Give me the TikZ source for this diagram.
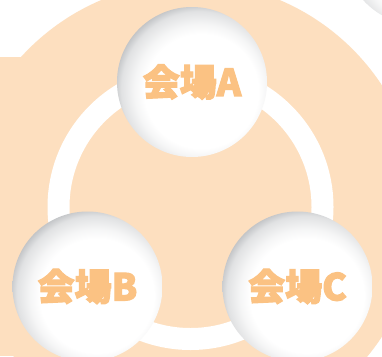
\documentclass[tikz,border=0pt]{standalone}
\usepackage{fontspec}
\usepackage{tikz}
\usepackage{xcolor}
\newfontfamily\jpfont{Noto Sans CJK JP}[BoldFeatures={FakeBold=3}]
\definecolor{peach}{HTML}{FDDFBF}
\definecolor{labelorange}{HTML}{FBC283}
\definecolor{shadowgray}{HTML}{868A8F}
\pgfdeclareradialshading{ball}{\pgfpoint{5bp}{-5bp}}{color(0bp)=(white); color(19bp)=(white); color(22bp)=(shadowgray!8); color(26bp)=(shadowgray!25); color(29.5bp)=(shadowgray!65); color(32bp)=(shadowgray); color(50bp)=(shadowgray)}

\begin{document}
\begin{tikzpicture}[x=1pt,y=-1pt]
      \useasboundingbox(0,0) rectangle (382,356);
      \tikzset{H/.style = {shape=circle, minimum size=150pt, inner sep=0pt, text=labelorange, font=\jpfont\bfseries\fontsize{37}{37}\selectfont}}
      \fill[white] (0,0) rectangle (382,356);
      \fill[peach] (0,57) rectangle (191,356);
      \fill[peach] (190.5,211) circle (229);
      \fill[white,even odd rule] (190.5,207) circle (143) (190.5,207) circle (121);
      \shade[shading=ball] (419,-50) circle (75);
      \shade[shading=ball] (192,82) circle (75);
      \shade[shading=ball] (87.5,286.5) circle (75);
      \shade[shading=ball] (297.5,286.5) circle (75);
      \node[H](hallA) at (192,82) {会場A};
      \node[H](hallB) at (87.5,286.5) {会場B};
      \node[H](hallC) at (297.5,286.5) {会場C};
    \end{tikzpicture}
\end{document}
